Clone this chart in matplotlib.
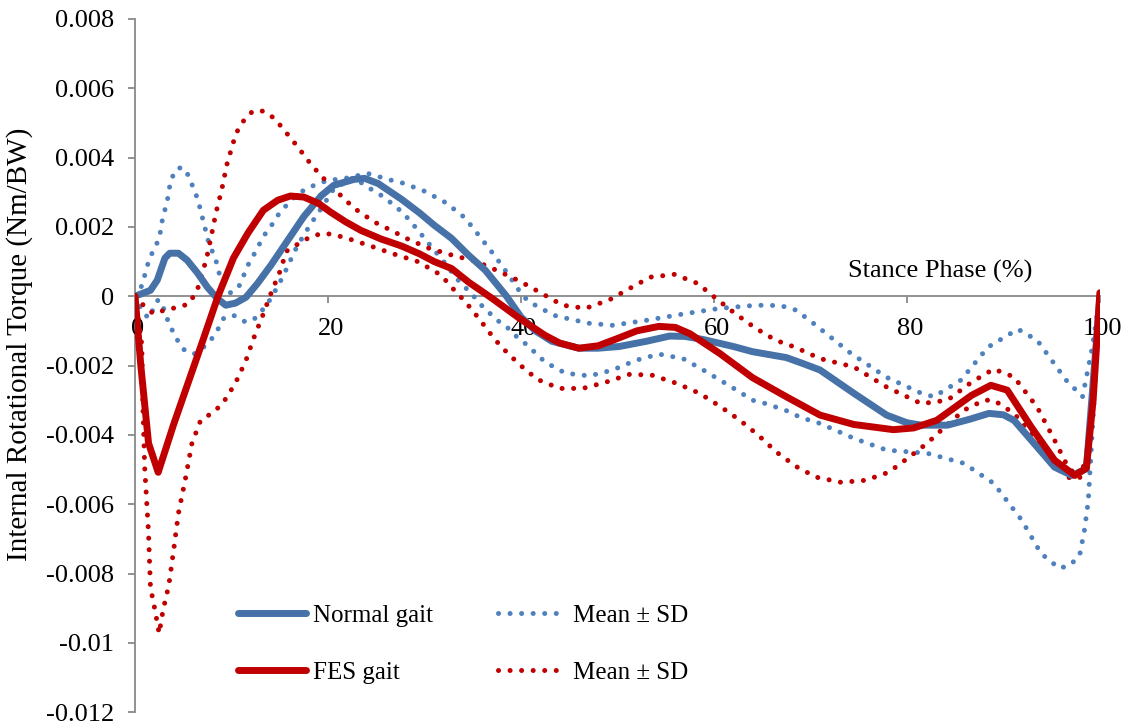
import matplotlib
matplotlib.use('Agg')
import matplotlib.pyplot as plt
from matplotlib.lines import Line2D
from matplotlib.transforms import ScaledTranslation

plt.rcParams['font.family'] = ['Liberation Serif', 'DejaVu Serif']

# Normal gait mean
normal_x = [0, 1.6, 2.3, 3.1, 3.6, 4.5, 5.4, 6.5, 7.5, 8.5, 9.4, 10.4, 11.5, 12.7, 14.1, 15.8,
            17.5, 19.3, 20.6, 22.7, 23.8, 25.2, 27.6, 29.5, 31, 32.8, 34.5, 36.3, 38.5, 40, 41.5,
            43.2, 46, 48, 50.2, 53, 55.4, 57, 58.9, 62, 64, 67.5, 69.3, 71, 74.5, 77.9, 80, 81.5,
            84.2, 86.5, 88.5, 90, 91.1, 93.5, 95.3, 97.1, 98.6, 99.3, 100]
normal_y = [0, 0.00017, 0.00046, 0.0011, 0.00124, 0.00124, 0.00104, 0.00066, 0.00026, -0.00006,
            -0.00026, -0.0002, -0.00003, 0.00037, 0.0009, 0.0016, 0.0023, 0.0029, 0.0032, 0.00337,
            0.0034, 0.00325, 0.0028, 0.0024, 0.00205, 0.00167, 0.0012, 0.00075, 0, -0.0006, -0.001,
            -0.0013, -0.0015, -0.0015, -0.00145, -0.0013, -0.00115, -0.00116, -0.00125, -0.00145,
            -0.0016, -0.00177, -0.00195, -0.00213, -0.0028, -0.00343, -0.00365, -0.00372, -0.00372,
            -0.00355, -0.00338, -0.00342, -0.00358, -0.00435, -0.00493, -0.00517, -0.00498, -0.0025, 0]

# Normal gait mean +/- SD
normal_hi_x = [0, 0.7, 1.4, 1.9, 2.5, 2.9, 3.3, 3.7, 4.3, 4.9, 5.6, 6.0, 6.5, 7.1, 7.7, 8.3, 8.9,
               9.9, 10.8, 11.8, 12.4, 13.0, 13.6, 14.4, 15, 15.9, 16.8, 17.9, 19.1, 20.1, 21.4,
               22.7, 24, 26.5, 27.8, 30, 32.2, 34.2, 35.7, 37.3, 38.8, 40.2, 41.1, 43.4, 44.6, 47,
               49.5, 52.9, 57.1, 60.6, 64.4, 66.9, 68.5, 70.3, 74.2, 77.9, 81.5, 82.8, 85.6, 88.4,
               91.5, 93.5, 96.5, 98.2, 99.2, 100]
normal_hi_y = [0, 0.0003, 0.001, 0.00133, 0.00165, 0.00231, 0.00268, 0.00335, 0.00367, 0.00372,
               0.00346, 0.00315, 0.0028, 0.00214, 0.00147, 0.00113, 0.00046, 0.0001, 0.0003,
               0.00095, 0.00124, 0.00156, 0.00185, 0.00214, 0.00242, 0.00268, 0.00294, 0.00312,
               0.00326, 0.00335, 0.00338, 0.00345, 0.00355, 0.00335, 0.00326, 0.00303, 0.0027,
               0.00226, 0.00173, 0.00116, 0.00058, 0, -0.0002, -0.00055, -0.00063, -0.00078,
               -0.00084, -0.0007, -0.0005, -0.00035, -0.00026, -0.00027, -0.0004, -0.00078,
               -0.00165, -0.00234, -0.0028, -0.0029, -0.00242, -0.00147, -0.00095, -0.00127,
               -0.00242, -0.0029, -0.0015, 0]
normal_lo_x = [0, 0.7, 1.4, 2.4, 2.9, 3.3, 3.8, 4.4, 5, 6.1, 7.1, 8, 8.6, 9.2, 10.2, 11.5, 12.5,
               13.2, 14.1, 15.3, 16.3, 16.8, 17.5, 18.2, 18.9, 19.6, 20.6, 22.7, 23.8, 25.8, 27.8,
               28.6, 29.4, 30.2, 31, 31.8, 33.3, 34.2, 35.1, 35.9, 36.8, 37.8, 38.8, 39.6, 40.6,
               42.5, 44.6, 47.1, 49.5, 51.9, 54.3, 56.8, 58.9, 62.3, 64, 65.4, 67.5, 69, 71, 74.5,
               77.9, 82.1, 85.9, 89, 91.9, 93.9, 95.8, 96.9, 97.9, 98.4, 98.8, 99, 99.5, 100]
normal_lo_y = [0, -0.0004, -0.00064, -0.0001, -0.0003, -0.00063, -0.00095, -0.00127, -0.00153,
               -0.00167, -0.00147, -0.00121, -0.00095, -0.00063, -0.00055, -0.00075, -0.00063,
               -0.0004, -0.00006, 0.00055, 0.00115, 0.00144, 0.00176, 0.00208, 0.00237, 0.00266,
               0.0031, 0.00343, 0.0032, 0.00286, 0.0024, 0.00214, 0.00188, 0.0016, 0.00133, 0.00107,
               0.00052, 0.00026, 0, -0.00026, -0.0005, -0.00075, -0.00095, -0.00118, -0.0014,
               -0.0019, -0.00222, -0.0023, -0.00213, -0.00185, -0.00167, -0.0018, -0.00213, -0.0027,
               -0.003, -0.0031, -0.0033, -0.0035, -0.00367, -0.0041, -0.00444, -0.00453, -0.00482,
               -0.0054, -0.00646, -0.00742, -0.00785, -0.00776, -0.00748, -0.00675, -0.0059,
               -0.00493, -0.0025, 0]

# FES gait mean
fes_x = [0, 0.6, 1.4, 2.4, 4, 5.5, 7, 8.6, 10.2, 11.7, 13.3, 14.8, 16.1, 17.5, 19, 20.3, 21.8,
         23.4, 25.5, 27.6, 29.5, 31, 32.8, 34.6, 37, 39.8, 42.5, 44, 46, 48, 50, 52, 54.3,
         56, 57.5, 60.6, 64, 67.5, 71, 74.5, 78.6, 80.7, 83.1, 85, 86.7, 88.7, 90.4, 92.9,
         95.3, 97.4, 98.6, 99.3, 100]
fes_y = [0, -0.002, -0.00424, -0.00508, -0.0037, -0.0025, -0.0013, 0, 0.0011, 0.00182, 0.00248,
         0.00277, 0.00289, 0.00286, 0.00268, 0.00242, 0.00215, 0.0019, 0.00165, 0.00145, 0.00122,
         0.001, 0.0008, 0.0004, -0.00006, -0.00063, -0.00113, -0.00135, -0.0015, -0.00143, -0.00122,
         -0.001, -0.00087, -0.0009, -0.00108, -0.00165, -0.00235, -0.0029, -0.00343, -0.0037,
         -0.00385, -0.0038, -0.00358, -0.0032, -0.00286, -0.00257, -0.00271, -0.00378, -0.00473,
         -0.00517, -0.00496, -0.003, 0.0001]

# FES gait mean +/- SD
fes_hi_x = [0, 1, 1.9, 3.1, 4.4, 5.5, 6.3, 6.7, 7, 7.4, 7.9, 8.4, 9, 9.5, 10.2, 10.6, 11.3, 12.2,
            13.3, 14.4, 15.2, 16.8, 18.3, 20, 22.7, 24.8, 26.9, 28.1, 30.4, 32.9, 35.3, 37.7,
            39.9, 42.1, 44.3, 46.7, 49.2, 51.3, 53.4, 55.9, 58.3, 60.2, 62.2, 64.3, 66.4, 68.4,
            71, 74.5, 77.9, 81.5, 84.2, 86.7, 89, 91.1, 93.5, 95.3, 96.7, 97.7, 98.8, 99.4, 100]
fes_hi_y = [0, -0.0003, -0.0005, -0.0004, -0.00032, -0.00023, 0.00009, 0.00037, 0.0007, 0.00107,
            0.00173, 0.00242, 0.00309, 0.00378, 0.00445, 0.00476, 0.00508, 0.00534, 0.00534,
            0.00514, 0.00488, 0.00433, 0.00378, 0.00326, 0.00254, 0.00214, 0.00185, 0.00167,
            0.00139, 0.00118, 0.00101, 0.00072, 0.00043, 0.00009, -0.00026, -0.00035, -0.0001,
            0.00023, 0.00055, 0.00063, 0.00037, -0.00006, -0.0005, -0.00092, -0.00127, -0.00147,
            -0.0018, -0.00204, -0.00262, -0.0031, -0.003, -0.00248, -0.0021, -0.00233, -0.0032,
            -0.00415, -0.00493, -0.0052, -0.00473, -0.0025, 0]
fes_lo_x = [0, 0.7, 0.8, 1.0, 1.4, 1.6, 2.1, 2.5, 2.9, 3.5, 4, 4.5, 5.2, 5.9, 6.8, 8.1, 9.1, 10.4,
            11.5, 12.3, 13.2, 14.1, 15, 15.7, 17.2, 18.3, 19.6, 20.8, 22, 24.5, 26.9, 29.2, 30.3,
            31.4, 32.3, 33.1, 34, 34.8, 35.6, 36.4, 37.1, 38, 39.8, 41.7, 44, 46.4, 48.8, 51.3,
            53.6, 56.1, 58.5, 60.6, 62.7, 64.6, 66.5, 68.5, 70.6, 73.2, 75.7, 78.1, 80.2, 82.1,
            83.9, 85.9, 88, 89, 91.1, 93.2, 94.6, 95.8, 96.9, 97.9, 98.6, 99.3, 100]
fes_lo_y = [0, -0.00139, -0.003, -0.00493, -0.00684, -0.0084, -0.0091, -0.00973, -0.00906,
            -0.00834, -0.00733, -0.00626, -0.0053, -0.00424, -0.00358, -0.00335, -0.00309,
            -0.00251, -0.00185, -0.00121, -0.00058, 0.00009, 0.0007, 0.0013, 0.00156, 0.00173,
            0.00182, 0.00176, 0.00167, 0.00144, 0.00121, 0.00101, 0.00084, 0.00066, 0.00043,
            0.00017, -0.00009, -0.00035, -0.00063, -0.00092, -0.00118, -0.00147, -0.00196,
            -0.0024, -0.00266, -0.00266, -0.00248, -0.00225, -0.00228, -0.00251, -0.0028,
            -0.00317, -0.00358, -0.00401, -0.0045, -0.00491, -0.00522, -0.00537, -0.00531,
            -0.00508, -0.00465, -0.00424, -0.00378, -0.00329, -0.003, -0.003, -0.00338, -0.00407,
            -0.00453, -0.00502, -0.00525, -0.00525, -0.00465, -0.0025, 0]

x_ticks = [0, 20, 40, 60, 80, 100]
y_ticks = [0.008, 0.006, 0.004, 0.002, 0, -0.002, -0.004, -0.006, -0.008, -0.01, -0.012]
y_tick_labels = ['0.008', '0.006', '0.004', '0.002', '0', '-0.002', '-0.004', '-0.006', '-0.008',
                 '-0.01', '-0.012']

blue_line = '#4672A8'
blue_dot = '#4F81BD'
red = '#C00000'
grey = '#898989'

dot = dict(lw=3.6, linestyle=(0, (0.01, 2.3)), dash_capstyle='round')

fig = plt.figure(figsize=(11.29, 7.26), dpi=100)
ax = fig.add_axes([0.1196, 0.019, 0.8546, 0.955])

ax.plot(normal_hi_x, normal_hi_y, color=blue_dot, **dot)
ax.plot(normal_lo_x, normal_lo_y, color=blue_dot, **dot)
ax.plot(fes_hi_x, fes_hi_y, color=red, **dot)
ax.plot(fes_lo_x, fes_lo_y, color=red, **dot)
ax.plot(normal_x, normal_y, color=blue_line, lw=5, solid_capstyle='round')
ax.plot(fes_x, fes_y, color=red, lw=5, solid_capstyle='round')

ax.set_xlim(0, 100)
ax.set_ylim(-0.012, 0.008)
ax.spines['top'].set_visible(False)
ax.spines['right'].set_visible(False)
ax.spines['bottom'].set_position(('data', 0))
for s in ['left', 'bottom']:
    ax.spines[s].set_color(grey)
    ax.spines[s].set_linewidth(1.3)
    ax.spines[s].set_zorder(0.5)

ax.set_xticks(x_ticks)
ax.set_xticklabels([str(t) for t in x_ticks])
ax.set_yticks(y_ticks)
ax.set_yticklabels(y_tick_labels)
ax.tick_params(axis='x', direction='out', length=5, width=1.3, color=grey, pad=11, labelsize=19)
ax.tick_params(axis='y', direction='out', length=5, width=1.3, color=grey, pad=10, labelsize=19)
# Excel puts the category labels a touch to the right of the tick
for lab in ax.get_xticklabels():
    lab.set_transform(lab.get_transform() + ScaledTranslation(0.03, 0, fig.dpi_scale_trans))

ax.set_ylabel('Internal Rotational Torque (Nm/BW)', fontsize=21)
ax.yaxis.set_label_coords(-0.106, 0.53)

ax.text(83.4, 0.00072, 'Stance Phase (%)', fontsize=19, ha='center', va='center')

handles = [
    Line2D([], [], color=blue_line, lw=5, solid_capstyle='round'),
    Line2D([], [], color=red, lw=5, solid_capstyle='round'),
    Line2D([], [], color=blue_dot, **dot),
    Line2D([], [], color=red, **dot),
]
labels = ['Normal gait', 'FES gait', 'Mean ± SD', 'Mean ± SD']
ax.legend(handles, labels, ncol=2, loc='upper left', bbox_to_anchor=(0.107, 0.156),
          frameon=False, fontsize=18, handlelength=2.7, handletextpad=0.3,
          columnspacing=2.6, labelspacing=1.4, borderpad=0, borderaxespad=0)

fig.savefig('out.png', dpi=100)
